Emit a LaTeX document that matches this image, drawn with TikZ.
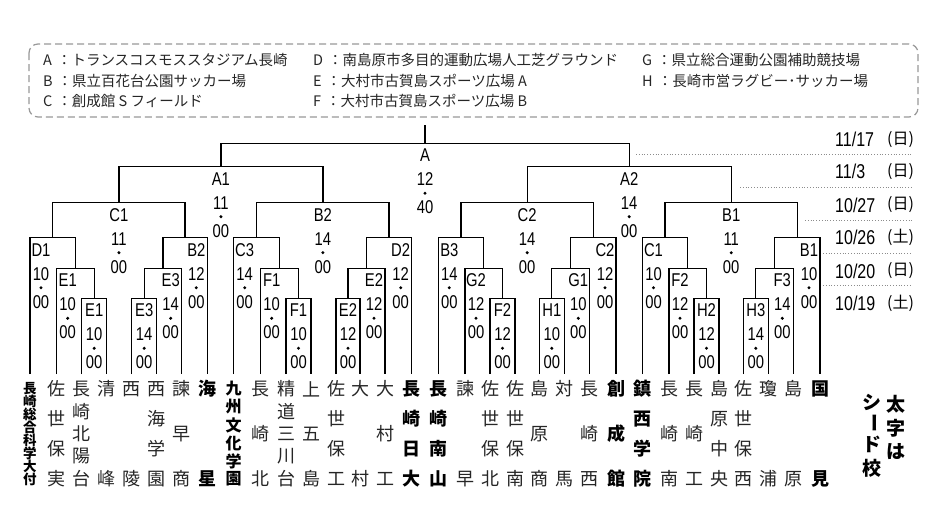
\documentclass[tikz,border=0pt]{standalone}
\usepackage{fontspec}
\setmainfont{Liberation Sans}
\newfontfamily\jp{Noto Sans CJK JP}
\newfontfamily\cond[FakeStretch=0.8]{Liberation Sans}
\usetikzlibrary{calc}
\tikzset{
  br/.style={draw=black, line width=1.3pt},
  lt/.style={font=\cond\fontsize{18.5}{18.5}\selectfont, inner sep=0pt, anchor=center},
  dotn/.style={circle, fill=black, inner sep=0pt, minimum size=3.3pt},
  tm/.style={font=\jp\fontsize{18}{18}\selectfont, inner sep=0pt, text=black!85},
  tmb/.style={font=\jp\bfseries\fontsize{18}{18}\selectfont, inner sep=0pt},
  tms/.style={font=\jp\bfseries\fontsize{13.5}{13.5}\selectfont, inner sep=0pt},
  tmm/.style={font=\jp\bfseries\fontsize{16}{16}\selectfont, inner sep=0pt},
  leg/.style={font=\jp\fontsize{14.5}{14.5}\selectfont, inner sep=0pt, anchor=west, text=black!85},
  dt/.style={font=\cond\fontsize{20}{20}\selectfont, inner sep=0pt, anchor=west},
  dw/.style={font=\jp\fontsize{16}{16}\selectfont, inner sep=0pt, anchor=west},
  seed/.style={font=\jp\bfseries\fontsize{19}{19}\selectfont, inner sep=0pt},
  dotl/.style={draw=black!45, dotted, line width=0.8pt}
}
% match: #1 name, #2 left, #3 right, #4 y, #5 label ref, #6 dx, #7 venue, #8 hh, #9 mm
\newcommand\mt[9]{%
  \coordinate (#1tmp) at ($(#2)!0.5!(#3)$);
  \coordinate (#1yy) at (0,#4);
  \coordinate (#1) at (#1tmp |- #1yy);
  \draw[br] (#2) |- (#1) -| (#3);
  \coordinate (#1c) at ($(#5 |- #1)+(#6,0)$);
  \node[lt] (#1v) at ($(#1c)+(0,12)$) {#7};
  \node[lt] (#1h) at ($(#1c)+(0,36)$) {#8};
  \node[dotn] (#1d) at ($(#1c)+(0,50)$) {};
  \node[lt] (#1m) at ($(#1c)+(0,64)$) {#9};
}
% team: #1 leaf index, #2 number of chars, #3 style, #4 chars
\newcommand\team[4]{%
  \foreach \ch [count=\i] in {#4} {\node[#3] (t#1-\i) at ($(p#1)+(0,{15+(\i-1)*90/(#2-1)})$) {\ch};}
}
\begin{document}
\begin{tikzpicture}[x=1pt,y=-1pt]
\useasboundingbox (0,0) rectangle (934,507);
\fill[white] (0,0) rectangle (934,507);

% legend
\draw[black!40, line width=1.2pt, dash pattern=on 7pt off 4pt, rounded corners=9pt] (29,44) rectangle (918,117);
\node[leg] (la) at (43,60) {A\hspace{5pt}：トランスコスモススタジアム長崎};
\node[leg] (lb) at (43,81) {B\hspace{5pt}：県立百花台公園サッカー場};
\node[leg] (lc) at (43,101) {C\hspace{5pt}：創成館 S フィールド};
\node[leg] (ld) at (313,60) {D\hspace{5pt}：南島原市多目的運動広場人工芝グラウンド};
\node[leg] (le) at (313,81) {E\hspace{5pt}：大村市古賀島スポーツ広場 A};
\node[leg] (lf) at (313,101) {F\hspace{5pt}：大村市古賀島スポーツ広場 B};
\node[leg] (lg) at (642,60) {G\hspace{5pt}：県立総合運動公園補助競技場};
\node[leg] (lh) at (642,81) {H\hspace{5pt}：長崎市営ラグビー･サッカー場};

% dates
\draw[dotl] (636,154.3) -- (912,154.3);
\draw[dotl] (740,187.3) -- (912,187.3);
\draw[dotl] (805,220) -- (912,220);
\draw[dotl] (823,253.3) -- (912,253.3);
\draw[dotl] (823,285.7) -- (912,285.7);
\node[dt] (d1) at (835,139.3) {11/17}; \node[dw] (w1) at (887,139.3) {(日)};
\node[dt] (d2) at (835,171.7) {11/3};  \node[dw] (w2) at (887,171.7) {(日)};
\node[dt] (d3) at (835,205) {10/27};   \node[dw] (w3) at (887,205) {(日)};
\node[dt] (d4) at (835,237.7) {10/26}; \node[dw] (w4) at (887,237.7) {(土)};
\node[dt] (d5) at (835,271) {10/20};   \node[dw] (w5) at (887,271) {(日)};
\node[dt] (d6) at (835,303.3) {10/19}; \node[dw] (w6) at (887,303.3) {(土)};

% leaves
\foreach \n/\x in {1/30,2/56.7,3/81.7,4/106.7,5/131.7,6/156.7,7/181.7,8/207.3,
  9/233.7,10/260.7,11/286,12/311,13/336,14/360,15/385,16/411.7,
  17/438.3,18/465,19/490,20/515,21/539.3,22/564.3,23/589.3,24/616,
  25/642.5,26/669,27/694,28/719,29/743.3,30/768.3,31/793.3,32/820}
  {\coordinate (p\n) at (\x,374);}

% block 1
\mt{a1}{p3}{p4}{298.3}{a1}{0}{E1}{10}{00}
\mt{b1}{p2}{a1}{268.3}{p2}{11}{E1}{10}{00}
\mt{c1}{p1}{b1}{237.7}{p1}{11}{D1}{10}{00}
\mt{d1}{p5}{p6}{298.3}{d1}{0}{E3}{14}{00}
\mt{e1}{d1}{p7}{268.3}{p7}{-11}{E3}{14}{00}
\mt{f1}{e1}{p8}{237.7}{p8}{-11}{B2}{12}{00}
\mt{g1}{c1}{f1}{202.7}{g1}{0}{C1}{11}{00}
% block 2
\mt{a2}{p11}{p12}{298.3}{a2}{0}{F1}{10}{00}
\mt{b2}{p10}{a2}{268.3}{p10}{11}{F1}{10}{00}
\mt{c2}{p9}{b2}{237.7}{p9}{11}{C3}{14}{00}
\mt{d2}{p13}{p14}{298.3}{d2}{0}{E2}{12}{00}
\mt{e2}{d2}{p15}{268.3}{p15}{-11}{E2}{12}{00}
\mt{f2}{e2}{p16}{237.7}{p16}{-11}{D2}{12}{00}
\mt{g2}{c2}{f2}{202.7}{g2}{0}{B2}{14}{00}
% block 3
\mt{a3}{p19}{p20}{298.3}{a3}{0}{F2}{12}{00}
\mt{b3}{p18}{a3}{268.3}{p18}{11}{G2}{12}{00}
\mt{c3}{p17}{b3}{237.7}{p17}{11}{B3}{14}{00}
\mt{d3}{p21}{p22}{298.3}{d3}{0}{H1}{10}{00}
\mt{e3}{d3}{p23}{268.3}{p23}{-11}{G1}{10}{00}
\mt{f3}{e3}{p24}{237.7}{p24}{-11}{C2}{12}{00}
\mt{g3}{c3}{f3}{202.7}{g3}{0}{C2}{14}{00}
% block 4
\mt{a4}{p27}{p28}{298.3}{a4}{0}{H2}{12}{00}
\mt{b4}{p26}{a4}{268.3}{p26}{11}{F2}{12}{00}
\mt{c4}{p25}{b4}{237.7}{p25}{11}{C1}{10}{00}
\mt{d4}{p29}{p30}{298.3}{d4}{0}{H3}{14}{00}
\mt{e4}{d4}{p31}{268.3}{p31}{-11}{F3}{14}{00}
\mt{f4}{e4}{p32}{237.7}{p32}{-11}{B1}{10}{00}
\mt{g4}{c4}{f4}{202.7}{g4}{0}{B1}{11}{00}
% upper rounds
\mt{A1}{g1}{g2}{166.7}{A1}{0}{A1}{11}{00}
\mt{A2}{g3}{g4}{166.7}{A2}{0}{A2}{14}{00}
\mt{Fin}{A1}{A2}{143.3}{Fin}{0}{A}{12}{40}
\coordinate (Fyy) at (0,125);
\coordinate (top) at (Fin |- Fyy);
\draw[br] (Fin) -- (top);

% teams
\team{1}{8}{tms}{長,崎,総,合,科,学,大,付}
\team{2}{4}{tm}{佐,世,保,実}
\team{3}{5}{tm}{長,崎,北,陽,台}
\team{4}{2}{tm}{清,峰}
\team{5}{2}{tm}{西,陵}
\team{6}{4}{tm}{西,海,学,園}
\team{7}{3}{tm}{諫,早,商}
\team{8}{2}{tmb}{海,星}
\team{9}{6}{tmm}{九,州,文,化,学,園}
\team{10}{3}{tm}{長,崎,北}
\team{11}{5}{tm}{精,道,三,川,台}
\team{12}{3}{tm}{上,五,島}
\team{13}{4}{tm}{佐,世,保,工}
\team{14}{2}{tm}{大,村}
\team{15}{3}{tm}{大,村,工}
\team{16}{4}{tmb}{長,崎,日,大}
\team{17}{4}{tmb}{長,崎,南,山}
\team{18}{2}{tm}{諫,早}
\team{19}{4}{tm}{佐,世,保,北}
\team{20}{4}{tm}{佐,世,保,南}
\team{21}{3}{tm}{島,原,商}
\team{22}{2}{tm}{対,馬}
\team{23}{3}{tm}{長,崎,西}
\team{24}{3}{tmb}{創,成,館}
\team{25}{4}{tmb}{鎮,西,学,院}
\team{26}{3}{tm}{長,崎,南}
\team{27}{3}{tm}{長,崎,工}
\team{28}{4}{tm}{島,原,中,央}
\team{29}{4}{tm}{佐,世,保,西}
\team{30}{2}{tm}{瓊,浦}
\team{31}{2}{tm}{島,原}
\team{32}{2}{tmb}{国,見}

% seed note
\node[seed] (s1) at (896,404) {太};
\node[seed] (s2) at (896,428) {字};
\node[seed] (s3) at (896,452) {は};
\node[seed] (s4) at (872,402) {シ};
\node[seed, rotate=-90] (s5) at (872,423) {ー};
\node[seed] (s6) at (872,444) {ド};
\node[seed] (s7) at (872,468) {校};
\end{tikzpicture}
\end{document}
